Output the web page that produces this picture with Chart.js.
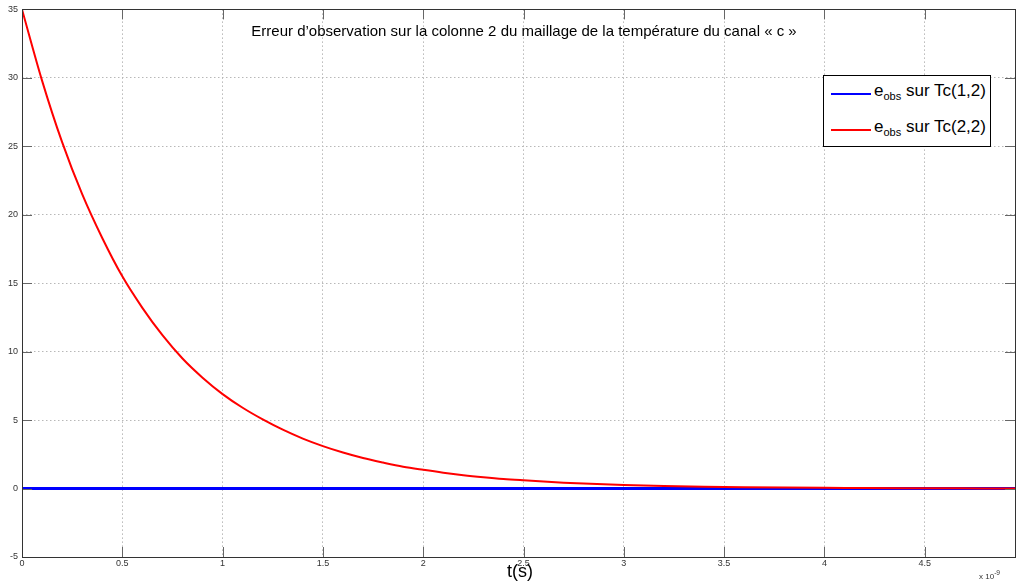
<!DOCTYPE html>
<html>
<head>
<meta charset="utf-8">
<script src="https://cdn.jsdelivr.net/npm/chart.js@4"></script>
<style>
  body { margin: 0; background: #fff; font-family: "Liberation Sans", Arial, sans-serif; }
  #wrap { position: relative; width: 1017px; height: 584px; }
  #titre { position: absolute; left: 0; width: 1048px; top: 22px; text-align: center; font-size: 15px; color: #000; }
  #legende { position: absolute; left: 823px; top: 75px; width: 166px; height: 70px; border: 1px solid #000; background: #fff; font-size: 17px; }
  #legende .ligne { position: absolute; left: 7px; width: 40px; height: 2px; }
  #legende .txt { position: absolute; left: 50px; }
  #legende sub { font-size: 11px; }
  #xlabel { position: absolute; left: 507px; top: 561px; font-size: 18px; }
  #expo { position: absolute; left: 979px; top: 569px; font-size: 8px; color: #333; }
</style>
</head>
<body>
<div id="wrap">
  <canvas id="obsChart" width="1017" height="584"></canvas>
  <div id="titre">Erreur d’observation sur la colonne 2 du maillage de la température du canal « c »</div>
  <div id="legende">
    <div class="ligne" style="top:17px;background:#0000ff"></div>
    <div class="txt" style="top:5px">e<sub>obs</sub> sur Tc(1,2)</div>
    <div class="ligne" style="top:53px;background:#ff0000"></div>
    <div class="txt" style="top:41px">e<sub>obs</sub> sur Tc(2,2)</div>
  </div>
  <div id="xlabel">t(s)</div>
  <div id="expo">x 10<sup>-9</sup></div>
</div>
<script>
// temps en unités de 1e-9 s
const temps = [0, 0.1, 0.2, 0.3, 0.4, 0.5, 0.6, 0.7, 0.8, 0.9, 1.0, 1.1, 1.2, 1.3, 1.4, 1.5, 1.6, 1.7, 1.8, 1.9,
  2.0, 2.1, 2.2, 2.3, 2.4, 2.5, 2.6, 2.7, 2.8, 2.9, 3.0, 3.2, 3.4, 3.6, 3.8, 4.0, 4.2, 4.4, 4.6, 4.8, 4.95];
const erreurTc22 = [35, 29.8, 25.3, 21.5, 18.3, 15.5, 13.2, 11.2, 9.5, 8.1, 6.9, 5.9, 5.05, 4.3, 3.65, 3.1, 2.63, 2.23, 1.9, 1.6,
  1.37, 1.16, 0.98, 0.83, 0.7, 0.6, 0.51, 0.43, 0.37, 0.31, 0.26, 0.19, 0.14, 0.1, 0.07, 0.05, 0.04, 0.03, 0.02, 0.01, 0.01];
const tempsTc12 = [0, 4.95];
const erreurTc12 = [0, 0];
const xTicks = [0, 0.5, 1, 1.5, 2, 2.5, 3, 3.5, 4, 4.5];
const yTicks = [-5, 0, 5, 10, 15, 20, 25, 30, 35];

const cadre = {
  id: 'cadre',
  afterDraw(chart) {
    const a = chart.chartArea, ctx = chart.ctx;
    ctx.save();
    ctx.strokeStyle = '#666';
    ctx.lineWidth = 1;
    ctx.beginPath();
    xTicks.forEach(v => {
      const px = Math.round(chart.scales.x.getPixelForValue(v)) + 0.5;
      ctx.moveTo(px, a.bottom); ctx.lineTo(px, a.bottom - 10);
      ctx.moveTo(px, a.top); ctx.lineTo(px, a.top + 10);
    });
    yTicks.forEach(v => {
      const py = Math.round(chart.scales.y.getPixelForValue(v)) + 0.5;
      ctx.moveTo(a.left, py); ctx.lineTo(a.left + 10, py);
      ctx.moveTo(a.right, py); ctx.lineTo(a.right - 10, py);
    });
    ctx.stroke();
    ctx.strokeStyle = '#333';
    ctx.strokeRect(Math.round(a.left) + 0.5, Math.round(a.top) + 0.5, Math.round(a.right - a.left), Math.round(a.bottom - a.top));
    ctx.restore();
  }
};

new Chart(document.getElementById('obsChart'), {
  type: 'line',
  data: {
    datasets: [{
      label: 'eobs sur Tc(2,2)',
      data: temps.map((t, i) => ({ x: t, y: erreurTc22[i] })),
      borderColor: '#ff0000',
      borderWidth: 2,
      pointRadius: 0,
      cubicInterpolationMode: 'monotone',
      fill: false
    }, {
      label: 'eobs sur Tc(1,2)',
      data: tempsTc12.map((t, i) => ({ x: t, y: erreurTc12[i] })),
      borderColor: '#0000ff',
      borderWidth: 3,
      pointRadius: 0,
      fill: false,
      order: 1
    }]
  },
  options: {
    responsive: false,
    animation: false,
    layout: { padding: { top: 8, right: 2, left: 0, bottom: 0 } },
    plugins: { legend: { display: false }, title: { display: false }, tooltip: { enabled: false } },
    scales: {
      x: {
        type: 'linear',
        min: 0,
        max: 4.95,
        afterBuildTicks: s => { s.ticks = xTicks.map(v => ({ value: v })); },
        afterFit: s => { s.height = 27; },
        ticks: { color: '#333', font: { size: 9, family: 'Liberation Sans' }, padding: 1, maxRotation: 0,
          callback: v => String(v) },
        grid: { color: '#b8b8b8', drawTicks: false },
        border: { display: false, dash: [1.5, 2.5] }
      },
      y: {
        min: -5,
        max: 35,
        afterBuildTicks: s => { s.ticks = yTicks.map(v => ({ value: v })); },
        afterFit: s => { s.width = 22; },
        ticks: { color: '#333', font: { size: 9, family: 'Liberation Sans' }, padding: 4 },
        grid: { color: '#b8b8b8', drawTicks: false },
        border: { display: false, dash: [1.5, 2.5] }
      }
    }
  },
  plugins: [cadre]
});
</script>
</body>
</html>
